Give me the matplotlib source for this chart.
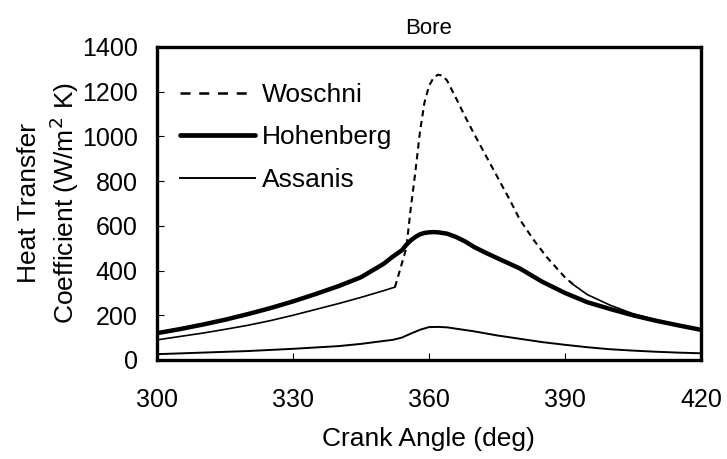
"""
Bore heat transfer coefficient vs crank angle: Woschni, Hohenberg, Assanis.
"""

import numpy as np
import matplotlib
matplotlib.use("Agg")
import matplotlib.pyplot as plt
from matplotlib.lines import Line2D

plt.rcParams["font.family"] = ["Liberation Sans", "DejaVu Sans"]

# crank angle (deg) and heat transfer coefficient (W/m^2 K)
woschni_angle = [300, 305, 310, 315, 320, 325, 330, 335, 340, 345, 350, 352.5,
                 353, 354, 355, 356, 357, 358, 359, 360, 361, 362, 363, 364,
                 366, 368, 370, 372, 374, 376, 378, 380, 383, 386, 390, 392,
                 395, 400, 405, 410, 415, 420]
woschni_h = [90, 105, 120, 137, 155, 176, 200, 226, 252, 280, 310, 326,
             360, 430, 500, 680, 840, 1017, 1150, 1225, 1262, 1276, 1272, 1250,
             1170, 1088, 1010, 935, 860, 785, 710, 630, 540, 460, 370, 335,
             292, 245, 207, 180, 158, 138]

hohenberg_angle = [300, 305, 310, 315, 320, 325, 330, 335, 340, 345, 350, 352,
                   354, 355, 356, 357, 358, 359, 360, 361, 362, 364, 366, 368,
                   370, 373, 376, 380, 385, 390, 395, 400, 405, 410, 415, 420]
hohenberg_h = [120, 138, 158, 180, 205, 232, 262, 295, 330, 370, 430, 462,
               490, 515, 535, 550, 562, 568, 571, 572, 571, 565, 550, 530,
               505, 475, 447, 410, 350, 300, 258, 228, 200, 176, 155, 135]

assanis_angle = [300, 310, 320, 330, 340, 345, 350, 352, 354, 356, 358, 360,
                 362, 364, 366, 370, 375, 380, 385, 390, 395, 400, 405, 410,
                 415, 420]
assanis_h = [26, 33, 40, 50, 62, 72, 85, 90, 100, 118, 135, 147,
             148, 146, 140, 128, 110, 95, 80, 68, 57, 48, 42, 37,
             33, 30]


def main():
    fig = plt.figure(figsize=(7.27, 4.59), dpi=100)
    ax = fig.add_axes([0.216, 0.2157, 0.748, 0.682])

    wa = np.array(woschni_angle)
    wh = np.array(woschni_h)
    # Excel-style dashes only show up on the steep part of the curve
    steep = (wa >= 352.5) & (wa <= 392)
    early = wa <= 352.5
    late = wa >= 392

    ax.plot(wa[steep], wh[steep], color="black", lw=1.5, ls=(0, (3, 2.2)))
    ax.plot(wa[early], wh[early], color="black", lw=1.2)
    ax.plot(wa[late], wh[late], color="black", lw=1.2)
    ax.plot(hohenberg_angle, hohenberg_h, color="black", lw=3.2,
            solid_capstyle="round")
    ax.plot(assanis_angle, assanis_h, color="black", lw=1.4)

    ax.set_xlim(300, 420)
    ax.set_ylim(0, 1400)
    ax.set_xticks([300, 330, 360, 390, 420])
    ax.set_yticks(np.arange(0, 1401, 200))

    for s in ax.spines.values():
        s.set_linewidth(2.4)
    ax.tick_params(axis="both", direction="in", length=5, width=0.8,
                   labelsize=18)
    ax.tick_params(axis="x", pad=20)
    ax.tick_params(axis="y", pad=14)

    ax.set_title("Bore", fontsize=16, pad=9)
    ax.set_xlabel("Crank Angle (deg)", fontsize=19)
    ax.xaxis.set_label_coords(0.5, -0.215)
    ax.set_ylabel("Heat Transfer\nCoefficient (W/m$^2$ K)", fontsize=19,
                  linespacing=1.25)
    ax.yaxis.set_label_coords(-0.14, 0.5)

    handles = [
        Line2D([], [], color="black", lw=1.8, ls=(0, (4, 3.5))),
        Line2D([], [], color="black", lw=3.4, solid_capstyle="round"),
        Line2D([], [], color="black", lw=1.4),
    ]
    ax.legend(handles, ["Woschni", "Hohenberg", "Assanis"], loc="upper left",
              bbox_to_anchor=(0.042, 0.885), frameon=False, fontsize=19,
              handlelength=2.85, handletextpad=0.27, labelspacing=0.7,
              borderpad=0, borderaxespad=0)

    fig.savefig("out.png", dpi=100)
    plt.close(fig)


if __name__ == "__main__":
    main()
